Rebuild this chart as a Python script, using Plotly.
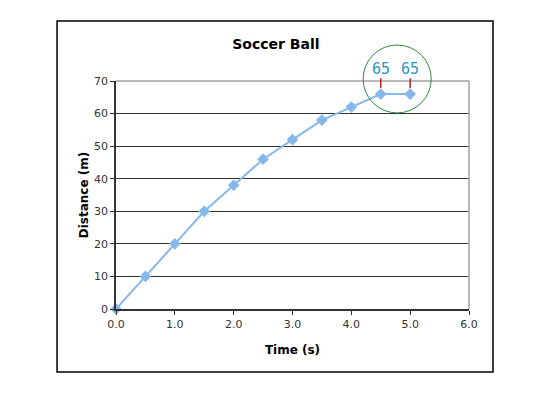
import plotly.graph_objects as go

time_s = [0.0, 0.5, 1.0, 1.5, 2.0, 2.5, 3.0, 3.5, 4.0, 4.5, 5.0]
distance_m = [0, 10, 20, 30, 38, 46, 52, 58, 62, 66, 66]
label_times = [4.5, 5.0]
label_texts = ["65", "65"]

font_family = "DejaVu Sans, Verdana, sans-serif"

W, H = 535, 399  # page body has an 8px margin
fig = go.Figure()
fig.add_trace(go.Scatter(
    x=time_s, y=distance_m, mode="lines+markers",
    line=dict(color="#86b9ea", width=2),
    marker=dict(symbol="diamond", size=9, color="#86b9ea"),
    cliponaxis=False, showlegend=False,
))

shapes = []
# outer frame
shapes.append(dict(type="rect", xref="paper", yref="paper",
                   x0=-0.167, x1=1.068, y0=-0.276, y1=1.263,
                   line=dict(color="black", width=1.5), layer="below"))
# top and right border of plot area (gray)
shapes.append(dict(type="line", xref="paper", yref="paper", x0=0, x1=1, y0=1, y1=1,
                   line=dict(color="#a0a0a0", width=1.5)))
shapes.append(dict(type="line", xref="paper", yref="paper", x0=1, x1=1, y0=0, y1=1,
                   line=dict(color="#a0a0a0", width=1.5)))
# green circle
shapes.append(dict(type="circle", xref="paper", yref="paper",
                   x0=0.700, x1=0.893, y0=0.860, y1=1.158,
                   line=dict(color="#2e8b3e", width=1)))
annotations = []
for t, txt in zip(label_times, label_texts):
    xp = t / 6.0
    shapes.append(dict(type="line", xref="paper", yref="paper",
                       x0=xp, x1=xp, y0=0.969, y1=1.012,
                       line=dict(color="#c0202a", width=1.5)))
    annotations.append(dict(x=t, xref="x", y=(309 - 69) / 228, yref="paper", text=txt,
                            showarrow=False, yanchor="middle",
                            font=dict(family="DejaVu Sans Mono, monospace", size=15, color="#2a96c0")))

fig.update_layout(
    width=W, height=H,
    margin=dict(l=108, r=74, t=73, b=98),
    paper_bgcolor="white", plot_bgcolor="white",
    title=dict(text="<b>Soccer Ball</b>", x=0.453, xref="paper", xanchor="center",
               y=(H - 36) / H, yanchor="middle",
               font=dict(family=font_family, size=14, color="black")),
    xaxis=dict(range=[0, 6], dtick=1, tick0=0, tickformat=".1f",
               showgrid=False, zeroline=False,
               showline=True, linecolor="#333333", linewidth=1.5,
               ticks="outside", ticklen=4, tickcolor="#333333",
               tickfont=dict(family=font_family, size=11, color="#333333"),
               title=dict(text="<b>Time (s)</b>", standoff=16,
                          font=dict(family=font_family, size=12, color="black"))),
    yaxis=dict(range=[0, 70], dtick=10, tick0=0,
               showgrid=True, gridcolor="#333333", gridwidth=1.2, zeroline=False,
               showline=True, linecolor="#333333", linewidth=1.5,
               ticks="outside", ticklen=4, tickcolor="#333333",
               tickfont=dict(family=font_family, size=11, color="#333333"),
               title=dict(text="<b>Distance (m)</b>", standoff=3,
                          font=dict(family=font_family, size=12, color="black"))),
    shapes=shapes, annotations=annotations,
)

fig.write_html("out.html")
